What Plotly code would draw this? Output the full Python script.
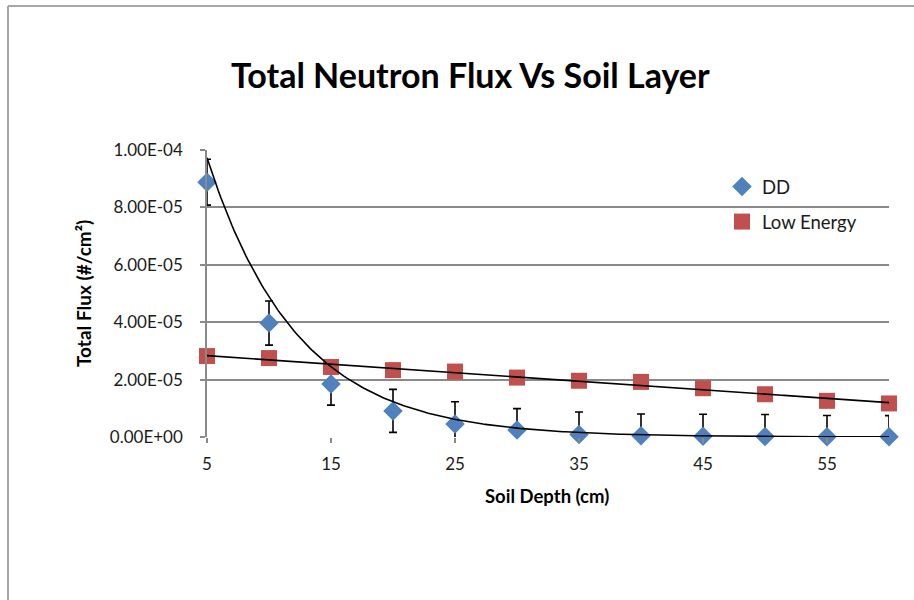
import numpy as np
import plotly.graph_objects as go

# ---- data ----
depth = [5, 10, 15, 20, 25, 30, 35, 40, 45, 50, 55, 60]
dd_flux = [8.88e-5, 3.97e-5, 1.85e-5, 9.1e-6, 4.5e-6, 2.4e-6, 9.0e-7,
           4.0e-7, 2.5e-7, 1.6e-7, 1.0e-7, 6.0e-8]
dd_err = [8.0e-6, 7.7e-6, 7.4e-6, 7.5e-6, 7.8e-6, 7.5e-6, 7.8e-6,
          7.6e-6, 7.7e-6, 7.7e-6, 7.4e-6, 7.4e-6]
low_energy_flux = [2.82e-5, 2.75e-5, 2.44e-5, 2.33e-5, 2.28e-5, 2.07e-5,
                   1.96e-5, 1.92e-5, 1.70e-5, 1.49e-5, 1.26e-5, 1.17e-5]

# exponential trendline shown for DD (y = a * exp(b * x))
dd_trend_a = 1.94e-4
dd_trend_b = -0.138

y_tickvals = [0, 2e-5, 4e-5, 6e-5, 8e-5, 1e-4]
y_ticktext = ["0.00E+00", "2.00E-05", "4.00E-05", "6.00E-05", "8.00E-05", "1.00E-04"]
x_tickvals = [5, 15, 25, 35, 45, 55]
x_ticktext = ["5", "15", "25", "35", "45", "55"]

# ---- layout geometry (pixels) ----
W, H = 914, 600
L, R, T, B = 207, 889, 150, 437
pw, ph = R - L, B - T


def px(x):
    return (x - L) / pw


def py(y):
    return (B - y) / ph


FONT = "Lato, 'Open Sans', sans-serif"
BLUE = "#4F81BD"
RED = "#C0504D"
GRID = "#8a8a8a"

x_dense = np.linspace(min(depth), max(depth), 300)
dd_trend = dd_trend_a * np.exp(dd_trend_b * x_dense)
le_coef = np.polyfit(depth, low_energy_flux, 1)
le_trend = np.polyval(le_coef, x_dense)

fig = go.Figure()

# error bars (clipped to plot area)
fig.add_trace(go.Scatter(
    x=depth, y=dd_flux, mode="markers",
    marker=dict(size=1, color="rgba(0,0,0,0)"),
    error_y=dict(type="data", array=dd_err, visible=True,
                 color="black", thickness=1.6, width=4),
    showlegend=False, hoverinfo="skip", cliponaxis=True))

fig.add_trace(go.Scatter(
    x=depth, y=dd_flux, mode="markers", name="DD",
    marker=dict(symbol="diamond", size=15, color=BLUE),
    legendgroup="dd", cliponaxis=False))

fig.add_trace(go.Scatter(
    x=depth, y=low_energy_flux, mode="markers", name="Low Energy",
    marker=dict(symbol="square", size=16, color=RED),
    legendgroup="le", cliponaxis=False))

fig.add_trace(go.Scatter(
    x=x_dense, y=dd_trend, mode="lines",
    line=dict(color="black", width=1.6),
    showlegend=False, hoverinfo="skip", cliponaxis=True))

fig.add_trace(go.Scatter(
    x=x_dense, y=le_trend, mode="lines",
    line=dict(color="black", width=1.6),
    showlegend=False, hoverinfo="skip", cliponaxis=True))

fig.update_layout(
    width=W, height=H,
    margin=dict(l=L, r=W - R, t=T, b=H - B),
    paper_bgcolor="white", plot_bgcolor="white",
    font=dict(family=FONT, size=17, color="#1a1a1a"),
    showlegend=True,
    legend=dict(x=px(722), y=py(168), xanchor="left", yanchor="top",
                font=dict(size=18.5, color="#1a1a1a"),
                traceorder="grouped", tracegroupgap=8,
                bgcolor="rgba(0,0,0,0)"),
    xaxis=dict(range=[5, 60], tickvals=x_tickvals, ticktext=x_ticktext,
               showgrid=False, zeroline=False,
               showline=False, ticks="outside", ticklen=5, tickcolor=GRID,
               tickwidth=1.5, ticklabelstandoff=7,
               tickfont=dict(size=17)),
    yaxis=dict(range=[0, 1e-4], tickvals=y_tickvals, ticktext=y_ticktext,
               showgrid=True, gridcolor=GRID, gridwidth=1.5,
               zeroline=False, showline=True, linecolor=GRID, linewidth=1.5,
               ticks="outside", ticklen=5, tickcolor=GRID, tickwidth=1.5,
               ticklabelstandoff=14, tickfont=dict(size=17)),
    annotations=[
        dict(text="<b>Total Neutron Flux Vs Soil Layer</b>", x=px(470), y=py(75),
             xref="paper", yref="paper", xanchor="center", yanchor="middle",
             showarrow=False, font=dict(size=34, color="black", family=FONT)),
        dict(text="<b>Soil Depth (cm)</b>", x=px(547), y=py(496),
             xref="paper", yref="paper", xanchor="center", yanchor="middle",
             showarrow=False, font=dict(size=18.5, color="black", family=FONT)),
        dict(text="<b>Total Flux (#/cm²)</b>", x=px(83), y=py(294),
             xref="paper", yref="paper", xanchor="center", yanchor="middle",
             textangle=-90, showarrow=False,
             font=dict(size=19, color="black", family=FONT)),
    ],
    shapes=[
        dict(type="line", xref="paper", yref="paper",
             x0=px(8), x1=px(914), y0=py(6), y1=py(6),
             line=dict(color="#a6a6a6", width=2)),
        dict(type="line", xref="paper", yref="paper",
             x0=px(8), x1=px(8), y0=py(6), y1=py(602),
             line=dict(color="#a6a6a6", width=2)),
    ],
)

fig.write_html("out.html")
